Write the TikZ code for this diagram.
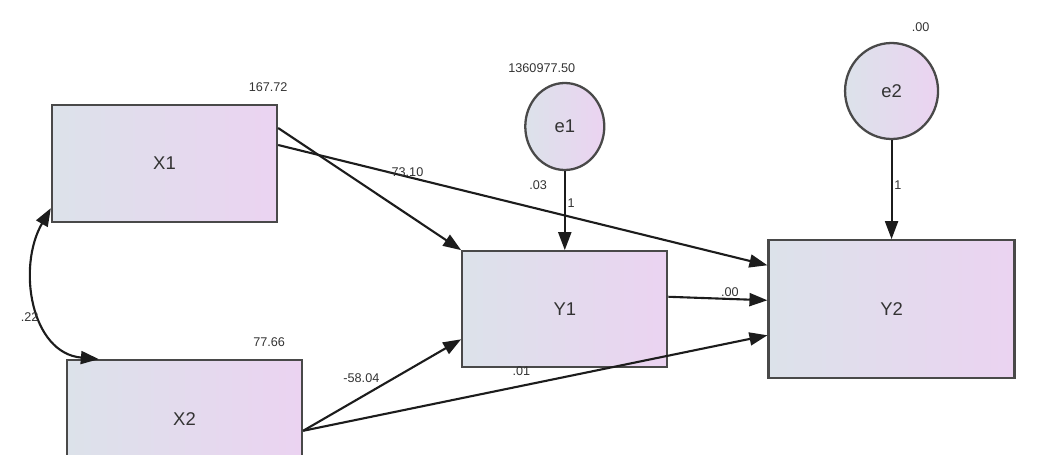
\documentclass[tikz,border=0pt]{standalone}
\usepackage{fontspec}
\setmainfont{Liberation Sans}
\usetikzlibrary{positioning, arrows.meta, shapes.geometric}

\definecolor{boxleft}{HTML}{DCE2EA}
\definecolor{boxright}{HTML}{EBD3F1}
\definecolor{linegray}{HTML}{1C1C1C}
\definecolor{textgray}{HTML}{333333}

\tikzset{
  obs/.style={rectangle, draw=linegray!80, line width=1.3pt, left color=boxleft, right color=boxright,
    text=textgray, font=\fontsize{10.5}{12}\selectfont},
  err/.style={ellipse, draw=linegray!80, line width=1.3pt, left color=boxleft, right color=boxright,
    text=textgray, inner sep=0pt, font=\fontsize{10.5}{12}\selectfont},
  est/.style={text=textgray, inner sep=1pt, font=\fontsize{7.2}{8}\selectfont},
}

\begin{document}
\begin{tikzpicture}[>={Triangle[length=0.36cm,width=0.26cm]}, line width=1.2pt, color=linegray]
				\clip (0,0) rectangle (20.74,9.08);
				\node[obs, minimum width=4.5cm, minimum height=2.34cm] (x1) at (3.29,5.81) {X1};
				\node[obs, minimum width=4.7cm, minimum height=2.34cm, below=2.72cm of x1, xshift=0.4cm] (x2) {X2};
				\node[obs, minimum width=4.1cm, minimum height=2.32cm, below right=0.54cm and 3.66cm of x1] (y1) {Y1};
				\node[obs, minimum width=4.92cm, minimum height=2.76cm, right=1.98cm of y1] (y2) {Y2};
				\node[err, minimum width=1.58cm, minimum height=1.74cm, above=1.58cm of y1] (e1) {e1};
				\node[err, minimum width=1.86cm, minimum height=1.92cm, above=1.98cm of y2] (e2) {e2};
				\node[est, above=0.18cm of x1.north east, xshift=-0.2cm] (vx1) {167.72};
				\node[est, above=0.2cm of x2.north east, xshift=-0.68cm] (vx2) {77.66};
				\node[est, above=0.12cm of e1.north, xshift=-0.46cm] (ve1) {1360977.50};
				\node[est, above=0.14cm of e2.north, xshift=0.58cm] (ve2) {.00};
				\node[est, above left=1.15cm and 0.3cm of y1.north] (ry1) {.03};
				\path[->] (e1) edge node [est, right, pos=0.4] (we1) {1} (y1)
					(e2) edge node [est, right, pos=0.45] (we2) {1} (y2)
					([yshift=0.71cm]x1.east) edge (y1.north west)
					([yshift=0.37cm]x1.east) edge node [est, pos=0.26, yshift=0.08cm] (bx1y2) {-73.10} ([yshift=0.88cm]y2.west)
					([yshift=0.25cm]y1.east) edge node [est, above, pos=0.62] (by1y2) {.00} ([yshift=0.18cm]y2.west)
					([yshift=-0.24cm]x2.east) edge node [est, above left, pos=0.5] (bx2y1) {-58.04} ([yshift=-0.6cm]y1.west)
					([yshift=-0.24cm]x2.east) edge node [est, above=4pt, pos=0.47] (bx2y2) {.01} ([yshift=-0.52cm]y2.west);
				\draw[<->] ([xshift=0.66cm]x2.north west) to [out=175, in=-120, looseness=1.1] node [est, left, pos=0.42] (cx12) {.22} ([yshift=0.3cm]x1.south west);
			\end{tikzpicture}
\end{document}
